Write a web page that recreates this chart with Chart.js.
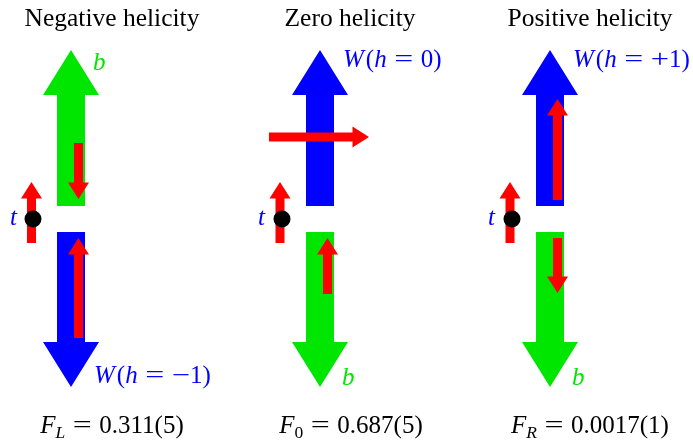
<!DOCTYPE html>
<html>
<head>
<meta charset="utf-8">
<script src="https://cdn.jsdelivr.net/npm/chart.js@4/dist/chart.umd.min.js"></script>
<style>
  html, body { margin: 0; padding: 0; background: #ffffff; }
  #c { display: block; }
</style>
</head>
<body>
<canvas id="c" width="693" height="441"></canvas>
<script>
// Helicity states of the W boson in top decay t -> W b.
const panelTitles = ['Negative helicity', 'Zero helicity', 'Positive helicity'];
const fractionNames = ['L', '0', 'R'];
const fractionValues = ['0.311(5)', '0.687(5)', '0.0017(1)'];
const wHelicities = ['\u22121', '0', '+1'];

// Momentum arrows: [x, tail y, tip y]
const wMomentum = [[71, 232, 387], [320, 206, 50], [550, 206, 50]];
const bMomentum = [[71, 206, 50], [320, 232, 387], [550, 232, 387]];
// Spin arrows: [x tail, y tail, x tip, y tip]
const topSpin = [[31.5, 243, 31.5, 182], [280, 243, 280, 182], [510, 243, 510, 182]];
const wSpin = [[78.5, 338, 78.5, 238], [269, 137, 369, 137], [557.5, 200, 557.5, 99]];
const bSpin = [[78.5, 143, 78.5, 199], [327.5, 294, 327.5, 238], [557.5, 238, 557.5, 293]];
// Top quark at rest
const topQuark = [{ x: 33, y: 219 }, { x: 282, y: 219 }, { x: 512, y: 219 }];

// Label anchors: [x, baseline y]
const titleCenters = [[112, 26], [350, 26], [590, 26]];
const wLabelAt = [[94, 383], [343, 67], [573, 67]];
const bLabelAt = [[93, 70], [342, 385], [572, 385]];
const tLabelAt = [[10, 225], [258, 225], [488, 225]];
const fracLabelCenters = [[112, 433], [351, 433], [590, 433]];

const RED = '#ff0000', BLUE = '#0000ff', GREEN = '#00e600';
const SERIF = '"Liberation Serif", "Times New Roman", serif';
const MATH_SIZE = 25;

function arrow(ctx, x1, y1, x2, y2, sw, hw, hl, color) {
  const dx = x2 - x1, dy = y2 - y1, L = Math.hypot(dx, dy);
  const ux = dx / L, uy = dy / L, nx = -uy, ny = ux;
  const bx = x2 - ux * hl, by = y2 - uy * hl;
  ctx.beginPath();
  ctx.moveTo(x1 + nx * sw / 2, y1 + ny * sw / 2);
  ctx.lineTo(bx + nx * sw / 2, by + ny * sw / 2);
  ctx.lineTo(bx + nx * hw / 2, by + ny * hw / 2);
  ctx.lineTo(x2, y2);
  ctx.lineTo(bx - nx * hw / 2, by - ny * hw / 2);
  ctx.lineTo(bx - nx * sw / 2, by - ny * sw / 2);
  ctx.lineTo(x1 - nx * sw / 2, y1 - ny * sw / 2);
  ctx.closePath();
  ctx.fillStyle = color;
  ctx.fill();
}

// Math-style text: pieces are [text, italic, subscript, widen]; a number is a space in em.
function pieceFont(it, sub, size) {
  return (it ? 'italic ' : '') + (sub ? size * 0.7 : size) + 'px ' + SERIF;
}
function mathWidth(ctx, pieces, size) {
  let w = 0;
  for (const p of pieces) {
    if (typeof p === 'number') { w += p * size; continue; }
    const [t, it, sub, widen] = p;
    ctx.font = pieceFont(it, sub, size);
    w += ctx.measureText(t).width * (widen || 1);
  }
  return w;
}
function mathText(ctx, pieces, x, y, size, color, center) {
  ctx.fillStyle = color;
  ctx.textBaseline = 'alphabetic';
  ctx.textAlign = 'left';
  let cx = center ? x - mathWidth(ctx, pieces, size) / 2 : x;
  for (const p of pieces) {
    if (typeof p === 'number') { cx += p * size; continue; }
    const [t, it, sub, widen] = p;
    const k = widen || 1;
    ctx.font = pieceFont(it, sub, size);
    ctx.save();
    ctx.translate(cx, y + (sub ? size * 0.2 : 0));
    ctx.scale(k, 1);
    ctx.fillText(t, 0, 0);
    ctx.restore();
    cx += ctx.measureText(t).width * k;
  }
}
const REL = 0.3;   // space around a relation sign, in em
const EQ = ['=', false, false, 1.35];
const MINUS_W = 1.3;

const diagramPlugin = {
  id: 'helicityDiagram',
  beforeDatasetsDraw(chart) {
    const ctx = chart.ctx, X = chart.scales.x, Y = chart.scales.y;
    const px = v => X.getPixelForValue(v), py = v => Y.getPixelForValue(v);
    ctx.save();
    wMomentum.forEach(([x, a, b]) => arrow(ctx, px(x), py(a), px(x), py(b), 28, 56, 45, BLUE));
    bMomentum.forEach(([x, a, b]) => arrow(ctx, px(x), py(a), px(x), py(b), 28, 56, 45, GREEN));
    [...topSpin, ...wSpin, ...bSpin].forEach(([x1, y1, x2, y2]) =>
      arrow(ctx, px(x1), py(y1), px(x2), py(y2), 9, 21, 16.5, RED));
    ctx.restore();
  },
  afterDraw(chart) {
    const ctx = chart.ctx, X = chart.scales.x, Y = chart.scales.y;
    const px = v => X.getPixelForValue(v), py = v => Y.getPixelForValue(v);
    ctx.save();
    ctx.fillStyle = '#000';
    ctx.font = '25.5px ' + SERIF;
    ctx.textAlign = 'center';
    ctx.textBaseline = 'alphabetic';
    panelTitles.forEach((t, i) => ctx.fillText(t, px(titleCenters[i][0]), py(titleCenters[i][1])));
    for (let i = 0; i < 3; i++) {
      const h = wHelicities[i];
      const sign = h.length > 1 ? [[h[0], false, false, MINUS_W]] : [];
      mathText(ctx, [['W', true], 0.08, ['(', false], ['h', true], REL, EQ, REL,
        ...sign, [h.slice(sign.length), false], [')', false]],
        px(wLabelAt[i][0]), py(wLabelAt[i][1]), MATH_SIZE, BLUE);
      mathText(ctx, [['b', true]], px(bLabelAt[i][0]), py(bLabelAt[i][1]), MATH_SIZE, GREEN);
      mathText(ctx, [['t', true]], px(tLabelAt[i][0]), py(tLabelAt[i][1]), MATH_SIZE, BLUE);
      mathText(ctx, [['F', true], [fractionNames[i], fractionNames[i] !== '0', true], REL, EQ, REL,
        [fractionValues[i], false]],
        px(fracLabelCenters[i][0]), py(fracLabelCenters[i][1]), MATH_SIZE, '#000', true);
    }
    ctx.restore();
  }
};

new Chart(document.getElementById('c'), {
  type: 'scatter',
  data: {
    datasets: [{
      data: topQuark,
      pointRadius: 8.5,
      pointHoverRadius: 8.5,
      pointBackgroundColor: '#000',
      pointBorderWidth: 0,
      clip: false
    }]
  },
  options: {
    responsive: false,
    devicePixelRatio: 1,
    animation: false,
    events: [],
    layout: { padding: 0, autoPadding: false },
    scales: {
      x: { type: 'linear', min: 0, max: 693, display: false },
      y: { type: 'linear', min: 0, max: 441, reverse: true, display: false }
    },
    plugins: { legend: { display: false }, tooltip: { enabled: false }, title: { display: false } }
  },
  plugins: [diagramPlugin]
});
</script>
</body>
</html>
